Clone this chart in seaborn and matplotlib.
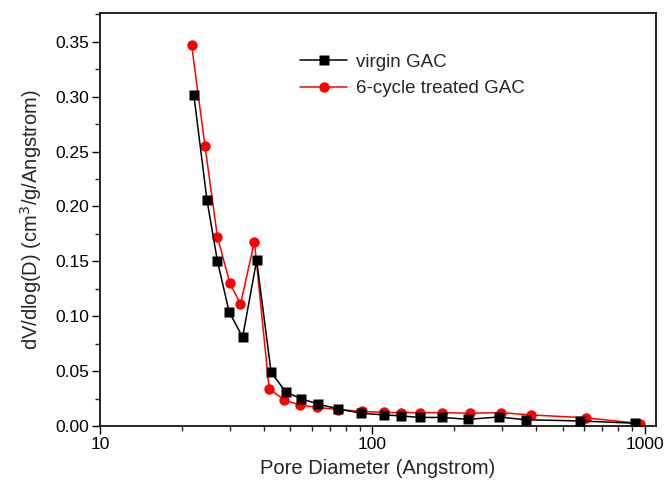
import matplotlib
matplotlib.use("Agg")
import matplotlib.pyplot as plt
import seaborn as sns
import pandas as pd
import numpy as np
from matplotlib.ticker import MultipleLocator, LogLocator, NullFormatter, FixedLocator, FixedFormatter

virgin_d = [22.1, 24.7, 27.0, 29.8, 33.4, 37.6, 42.5, 48.1, 54.6, 63.2, 74.8, 91.2,
            110.4, 127.2, 149.6, 180.8, 224.4, 291.5, 365.4, 578.1, 925.0]
virgin_v = [0.302, 0.206, 0.150, 0.104, 0.081, 0.151, 0.049, 0.031, 0.025, 0.020, 0.0156, 0.0116,
            0.0101, 0.0092, 0.0078, 0.0078, 0.0061, 0.0082, 0.0057, 0.0046, 0.0025]
treated_d = [21.7, 24.3, 27.0, 30.0, 32.8, 36.9, 41.8, 47.4, 54.2, 62.9, 74.5, 91.4,
             110.4, 127.2, 149.6, 180.8, 228.2, 295.8, 381.2, 608.1, 965.0]
treated_v = [0.347, 0.255, 0.172, 0.130, 0.111, 0.168, 0.034, 0.024, 0.019, 0.017, 0.015, 0.0133,
             0.0124, 0.0122, 0.0122, 0.0122, 0.0116, 0.0122, 0.0101, 0.0075, 0.0022]
series_names = ["virgin GAC", "6-cycle treated GAC"]
x_ticks = [10, 100, 1000]
y_ticks = [0.00, 0.05, 0.10, 0.15, 0.20, 0.25, 0.30, 0.35]

df = pd.concat([
    pd.DataFrame({"D": virgin_d, "V": virgin_v, "s": series_names[0]}),
    pd.DataFrame({"D": treated_d, "V": treated_v, "s": series_names[1]}),
])

sns.set_style("ticks")
plt.rcParams["font.family"] = ["Liberation Sans", "DejaVu Sans"]

fig = plt.figure(figsize=(6.66, 4.84), dpi=100)
ax = fig.add_axes([100/666, 1-426/484, (655.7-100)/666, (426-13.3)/484])

styles = {series_names[0]: dict(color="black", marker="s", ms=7, zorder=3),
          series_names[1]: dict(color="#ff0000", marker="o", ms=7.5, zorder=2)}
for name in series_names:
    sub = df[df["s"] == name]
    st = styles[name]
    sns.lineplot(data=sub, x="D", y="V", ax=ax, color=st["color"], marker=st["marker"],
                 markersize=st["ms"], markeredgecolor="none", linewidth=1.1,
                 label=name, zorder=st["zorder"], estimator=None, sort=False)

ax.set_xscale("log")
ax.set_xlim(10, 1098)
ax.set_ylim(0, 0.376)
ax.xaxis.set_major_locator(FixedLocator(x_ticks))
ax.xaxis.set_major_formatter(FixedFormatter([str(t) for t in x_ticks]))
ax.xaxis.set_minor_locator(LogLocator(base=10, subs=np.arange(2, 10)))
ax.xaxis.set_minor_formatter(NullFormatter())
ax.yaxis.set_major_locator(FixedLocator(y_ticks))
ax.yaxis.set_major_formatter(FixedFormatter([f"{t:.2f}" for t in y_ticks]))
ax.yaxis.set_minor_locator(MultipleLocator(0.025))

for sp in ax.spines.values():
    sp.set_visible(True)
    sp.set_linewidth(1.2)
    sp.set_color("black")
ax.tick_params(which="major", direction="out", length=6, width=1.0, labelsize=12.5, colors="black", pad=2)
ax.tick_params(which="minor", direction="out", length=3.5, width=1.0)
ax.tick_params(top=False, right=False, which="both")

ax.set_xlabel("Pore Diameter (Angstrom)", fontsize=14.5, labelpad=5)
ax.set_ylabel("dV/dlog(D) (cm$^3$/g/Angstrom)", fontsize=14.5, labelpad=8)

leg = ax.legend(loc="upper left", bbox_to_anchor=(0.347, 0.92), frameon=False, fontsize=13.5,
                handlelength=2.5, handletextpad=0.45, labelspacing=0.5, borderaxespad=0)
ax.grid(False)

fig.savefig("out.png", dpi=100)
